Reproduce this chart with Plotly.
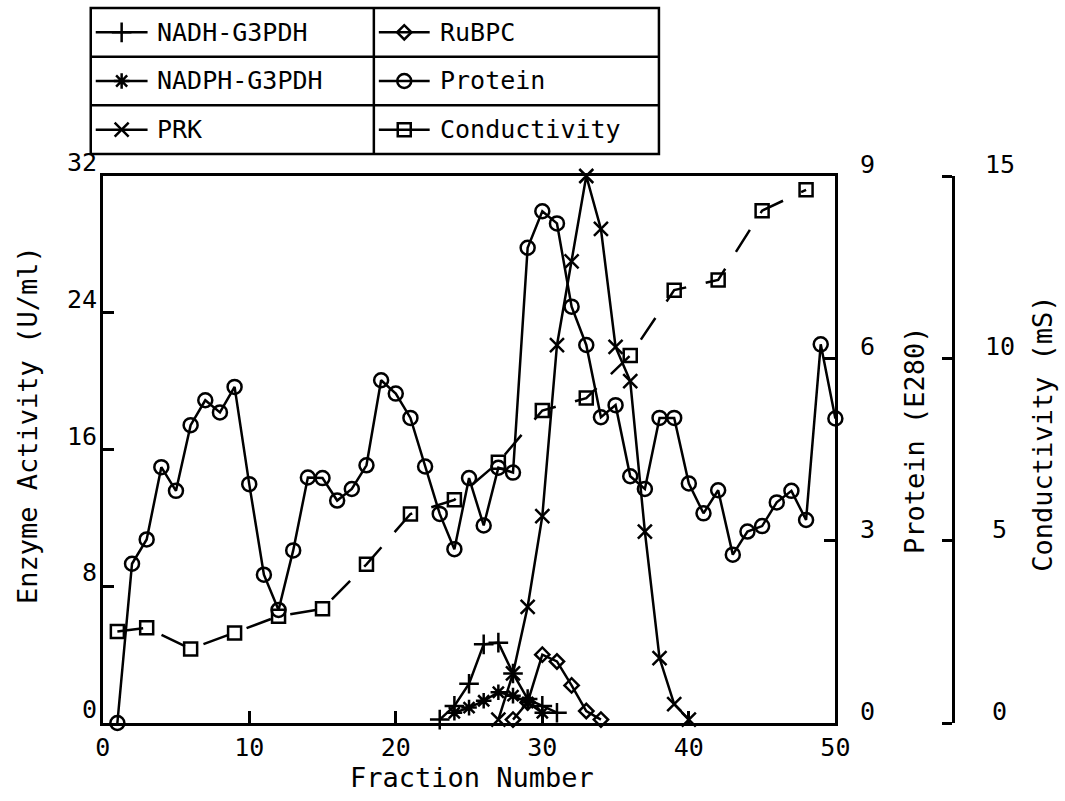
import plotly.graph_objects as go

# ---- data -------------------------------------------------------------
fraction_protein = list(range(1, 51))
protein = [0.00, 2.62, 3.02, 4.21, 3.82, 4.90, 5.31, 5.11, 5.53, 3.93,
           2.44, 1.86, 2.84, 4.04, 4.03, 3.66, 3.85, 4.24, 5.64, 5.42,
           5.02, 4.22, 3.44, 2.86, 4.03, 3.25, 4.20, 4.12, 7.82, 8.42,
           8.22, 6.85, 6.22, 5.03, 5.23, 4.06, 3.85, 5.02, 5.02, 3.94,
           3.45, 3.83, 2.77, 3.15, 3.24, 3.63, 3.82, 3.34, 6.23, 5.01]

fraction_cond = [1, 3, 6, 9, 12, 15, 18, 21, 24, 27, 30, 33, 36, 39, 42, 45, 48]
conductivity = [2.51, 2.61, 2.03, 2.47, 2.93, 3.13, 4.35, 5.73, 6.12, 7.15,
                8.57, 8.91, 10.08, 11.87, 12.15, 14.05, 14.62]

fraction_prk = list(range(27, 41))
prk = [0.2, 2.9, 6.8, 12.1, 22.1, 27.0, 32.0, 28.9, 22.0, 20.0, 11.2, 3.8, 1.1, 0.2]

fraction_nadh = list(range(23, 32))
nadh = [0.2, 1.0, 2.3, 4.6, 4.7, 2.9, 1.4, 1.0, 0.6]

fraction_nadph = list(range(24, 31))
nadph = [0.6, 0.9, 1.3, 1.8, 1.6, 1.2, 0.6]

fraction_rubpc = list(range(28, 35))
rubpc = [0.2, 1.2, 4.0, 3.6, 2.2, 0.7, 0.2]

x_ticks = [0, 10, 20, 30, 40, 50]
enzyme_ticks = [0, 8, 16, 24, 32]
protein_ticks = [0, 3, 6, 9]
cond_ticks = [0, 5, 10, 15]

# ---- styling ----------------------------------------------------------
FONT = "DejaVu Sans Mono"
INK = "black"
LW = 2.5

W, H = 1065, 801
ML, MR, MT, MB = 10, 112, 5, 78          # paper area: x 10..953, y 5..723
PX0, PX1 = ML, W - MR
PY0, PY1 = MT, H - MB
PLOT_LEFT, PLOT_RIGHT, PLOT_TOP = 100, 835, 176


def px(x):
    """Pixel column -> paper fraction."""
    return (x - PX0) / (PX1 - PX0)


def py(y):
    """Pixel row (from top) -> paper fraction."""
    return (PY1 - y) / (PY1 - PY0)


x_dom = [px(PLOT_LEFT), px(PLOT_RIGHT)]
y_dom = [0, py(PLOT_TOP)]

styles = {
    "NADH-G3PDH": dict(symbol="cross-thin-open", size=14),
    "NADPH-G3PDH": dict(symbol="asterisk-open", size=13),
    "PRK": dict(symbol="x-thin-open", size=14),
    "RuBPC": dict(symbol="diamond-open", size=11),
    "Protein": dict(symbol="circle-open", size=14),
    "Conductivity": dict(symbol="square-open", size=13),
}


def marker(name):
    s = styles[name]
    return dict(symbol=s["symbol"], size=s["size"], color=INK,
                line=dict(color=INK, width=LW))


fig = go.Figure()


def series(name, xs, ys, yaxis, dash="solid"):
    fig.add_trace(go.Scatter(
        x=xs, y=ys, name=name, mode="lines+markers", xaxis="x", yaxis=yaxis,
        line=dict(color=INK, width=LW, dash=dash), marker=marker(name),
        showlegend=False, cliponaxis=False))


series("Protein", fraction_protein, protein, "y2")
series("Conductivity", fraction_cond, conductivity, "y3", dash="26px,20px")
series("PRK", fraction_prk, prk, "y")
series("NADH-G3PDH", fraction_nadh, nadh, "y")
series("NADPH-G3PDH", fraction_nadph, nadph, "y")
series("RuBPC", fraction_rubpc, rubpc, "y")

# ---- legend table (samples on a pixel-scaled helper axis pair) --------
BOX_L, BOX_R, BOX_T, BOX_B, COL_DIV = 88, 658, 8, 154, 372
row_h = (BOX_B - BOX_T) / 3
legend_cols = [
    ["NADH-G3PDH", "NADPH-G3PDH", "PRK"],
    ["RuBPC", "Protein", "Conductivity"],
]
col_x = [(93, 145, 152), (377, 428, 436)]   # sample start, sample end, text start

edge = dict(color=INK, width=LW)
annotations = []
shapes = [
    dict(type="rect", xref="paper", yref="paper", x0=px(BOX_L), x1=px(BOX_R),
         y0=py(BOX_T), y1=py(BOX_B), line=edge),
    dict(type="line", xref="paper", yref="paper", x0=px(COL_DIV), x1=px(COL_DIV),
         y0=py(BOX_T), y1=py(BOX_B), line=edge),
]
for r in (1, 2):
    yl = BOX_T + r * row_h
    shapes.append(dict(type="line", xref="paper", yref="paper", x0=px(BOX_L),
                       x1=px(BOX_R), y0=py(yl), y1=py(yl), line=edge))

for c, names in enumerate(legend_cols):
    xs0, xs1, xt = col_x[c]
    for r, name in enumerate(names):
        yc = BOX_T + (r + 0.5) * row_h
        fig.add_trace(go.Scatter(x=[xs0, xs1], y=[yc, yc], mode="lines",
                                 xaxis="x4", yaxis="y4", showlegend=False,
                                 line=dict(color=INK, width=LW), hoverinfo="skip"))
        fig.add_trace(go.Scatter(x=[(xs0 + xs1) / 2], y=[yc], mode="markers",
                                 xaxis="x4", yaxis="y4", showlegend=False,
                                 marker=marker(name), hoverinfo="skip"))
        annotations.append(dict(xref="paper", yref="paper", x=px(xt), y=py(yc),
                                text=name, showarrow=False, xanchor="left",
                                yanchor="middle",
                                font=dict(family=FONT, size=25, color=INK)))

# ---- y tick labels (sit just above their tick marks) ------------------
tick_font = dict(family=FONT, size=25, color=INK)
for v in enzyme_ticks:
    annotations.append(dict(xref="paper", yref="y", x=px(96), y=v, text=str(v),
                            showarrow=False, xanchor="right", yanchor="bottom",
                            yshift=-3, font=tick_font))
for v in protein_ticks:
    annotations.append(dict(xref="paper", yref="y2", x=px(867), y=v, text=str(v),
                            showarrow=False, xanchor="center", yanchor="bottom",
                            yshift=-5, font=tick_font))
for v in cond_ticks:
    annotations.append(dict(xref="paper", yref="y3", x=px(1000), y=v, text=str(v),
                            showarrow=False, xanchor="center", yanchor="bottom",
                            yshift=-5, font=tick_font))

# ---- axis titles ------------------------------------------------------
title_font = dict(family=FONT, size=27, color=INK)
titles = [
    ("Enzyme Activity (U/ml)", 24, 425, -90),
    ("Protein (E280)", 915, 440, -90),
    ("Conductivity (mS)", 1042, 434, -90),
    ("Fraction Number", 470, 777, 0),
]
for text, tx, ty, angle in titles:
    annotations.append(dict(xref="paper", yref="paper", x=px(tx), y=py(ty),
                            text=text, textangle=angle, showarrow=False,
                            xanchor="center", yanchor="middle", font=title_font))

axis_line = dict(showline=True, linecolor=INK, linewidth=LW, showgrid=False,
                 zeroline=False, tickcolor=INK, tickwidth=LW)

fig.update_layout(
    width=W, height=H, autosize=False,
    margin=dict(l=ML, r=MR, t=MT, b=MB, pad=0),
    paper_bgcolor="white", plot_bgcolor="rgba(0,0,0,0)",
    font=dict(family=FONT, color=INK),
    showlegend=False,
    xaxis=dict(domain=x_dom, range=[0, 50], anchor="y", mirror=True,
               tickvals=x_ticks, ticks="inside", ticklen=12,
               tickfont=dict(family=FONT, size=25, color=INK), **axis_line),
    yaxis=dict(domain=y_dom, range=[0, 32], anchor="x", mirror=True,
               tickvals=enzyme_ticks, ticks="inside", ticklen=12,
               showticklabels=False, **axis_line),
    yaxis2=dict(domain=y_dom, range=[0, 9], overlaying="y", side="right", anchor="x",
                tickvals=protein_ticks, ticks="inside", ticklen=12,
                showticklabels=False, **axis_line),
    yaxis3=dict(domain=y_dom, range=[0, 15], overlaying="y", side="left",
                anchor="free", position=1.0, tickvals=cond_ticks,
                ticks="outside", ticklen=10, showticklabels=False, **axis_line),
    xaxis4=dict(domain=[0, 1], range=[PX0, PX1], anchor="y4", visible=False,
                fixedrange=True),
    yaxis4=dict(domain=[0, 1], range=[PY1, PY0], anchor="x4", visible=False,
                fixedrange=True),
    shapes=shapes,
    annotations=annotations,
)

fig.write_html("out.html")
